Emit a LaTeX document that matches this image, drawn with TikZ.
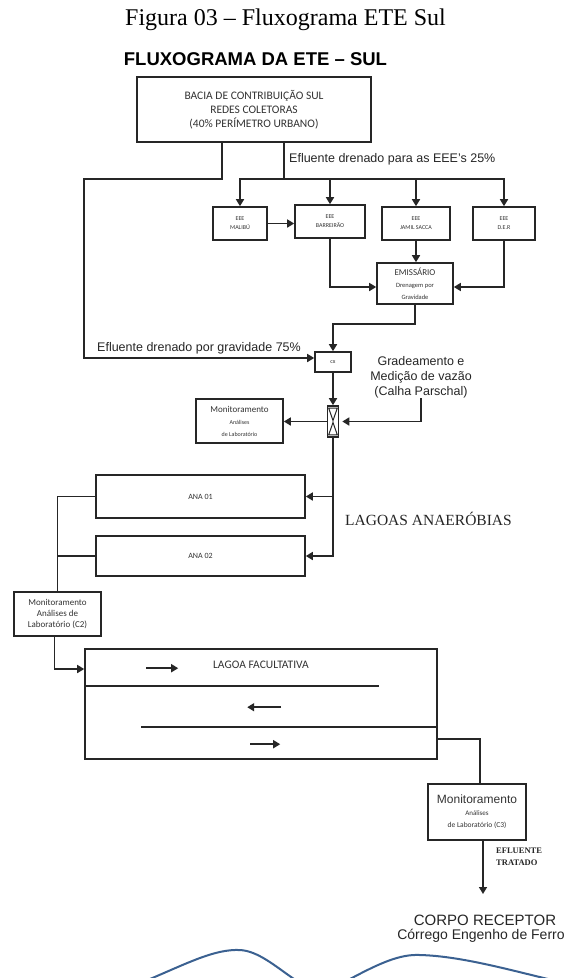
\documentclass[tikz,border=0pt]{standalone}
\usepackage{fontspec}
\setmainfont{Liberation Serif}
\setsansfont{Liberation Sans}
\newfontfamily\calfont{Carlito}
\usetikzlibrary{arrows.meta}
\newcommand\myfs[2]{\fontsize{#1}{#2}\selectfont}
\definecolor{wavec}{RGB}{59,97,145}
\begin{document}
\begin{tikzpicture}[x=1pt,y=-1pt,
  ln/.style={line width=1.6pt, draw=black!85},
  arr/.style={ln, -{Triangle[length=7pt,width=8pt]}},
  box/.style={draw=black!85, line width=1.6pt, inner sep=1pt, align=center, text=black!80},
  lbl/.style={font=\sffamily\myfs{12.5}{15}, text=black!85, inner sep=0pt},
  eee/.style={box, minimum height=33pt, font=\calfont\myfs{6}{9}},
]
\fill[white] (0,0) rectangle (569,978);
\useasboundingbox (0,0) rectangle (569,978);

% titles
\node[font=\myfs{24}{28}, inner sep=0] (fig) at (285.5,20) {Figura 03 – Fluxograma ETE Sul};
\node[font=\sffamily\bfseries\myfs{18.5}{22}, inner sep=0] (head) at (255.5,59) {FLUXOGRAMA DA ETE – SUL};

% top box
\node[box, line width=2pt, minimum width=234pt, minimum height=65pt, font=\calfont\myfs{11.5}{14}] (top) at (254,109.5)
  {BACIA DE CONTRIBUIÇÃO SUL\\REDES COLETORAS\\(40\% PERÍMETRO URBANO)};

% EEE boxes
\node[eee, minimum width=54pt] (malibu) at (240,223.5) {EEE\\MALIBÚ};
\node[eee, minimum width=70pt] (barreirao) at (330,221.5) {EEE\\BARREIRÃO};
\node[eee, minimum width=68pt] (jamil) at (416,223.5) {EEE\\JAMIL SACCA};
\node[eee, minimum width=62pt] (der) at (504,223.5) {EEE\\D.E.R};
\node[box, minimum width=76pt, minimum height=41pt] (emissario) at (415,283.5)
  {{\calfont\myfs{9}{11}EMISSÁRIO}\\{\calfont\myfs{6.5}{8}Drenagem por}\\{\calfont\myfs{6.5}{8}Gravidade}};

\node[box, minimum width=36pt, minimum height=20pt, font=\calfont\myfs{6}{7}] (cx) at (333,362) {cx};
\node[box, minimum width=11pt, minimum height=31pt, inner sep=0pt] (reg) at (333,421.5) {};
\draw[line width=1pt, black!85] ([shift={(2pt,-3pt)}]reg.north west) -- ([shift={(-2pt,-3pt)}]reg.north east) -- ([yshift=1pt]reg.center) -- cycle;
\draw[line width=1pt, black!85] ([shift={(2pt,3pt)}]reg.south west) -- ([shift={(-2pt,3pt)}]reg.south east) -- ([yshift=-1pt]reg.center) -- cycle;

\node[box, minimum width=87pt, minimum height=44pt] (mon1) at (239.5,421)
  {{\calfont\myfs{9}{11}Monitoramento}\\{\calfont\myfs{6}{9}Análises}\\{\calfont\myfs{6}{8}de Laboratório}};

\node[box, minimum width=209pt, minimum height=43pt, font=\calfont\myfs{8}{10}] (ana1) at (200.5,496.5) {ANA 01};
\node[box, minimum width=209pt, minimum height=40pt, font=\calfont\myfs{8}{10}] (ana2) at (200.5,556) {ANA 02};

\node[box, minimum width=87pt, minimum height=44pt, font=\calfont\myfs{9}{11}] (c2) at (57.5,614)
  {Monitoramento\\Análises de\\Laboratório (C2)};

\node[box, minimum width=352pt, minimum height=110pt] (lf) at (261,704) {};
\node[font=\calfont\myfs{11.5}{14}, text=black!80, inner sep=0] (lftxt) at (261,665) {LAGOA FACULTATIVA};

\node[box, minimum width=98pt, minimum height=56pt] (c3) at (477,812)
  {{\sffamily\myfs{12}{14}Monitoramento}\\{\calfont\myfs{7}{9}Análises}\\{\calfont\myfs{7.5}{9}de Laboratório (C3)}};

% labels
\node[lbl, anchor=west] (l25) at (289,159) {Efluente drenado para as EEE’s 25\%};
\node[lbl, anchor=west] (l75) at (97,348) {Efluente drenado por gravidade 75\%};
\node[lbl, align=center] (grad) at (421,377) {Gradeamento e\\Medição de vazão\\(Calha Parschal)};
\node[font=\myfs{15.5}{18}, inner sep=0, text=black!85] (lagoas) at (428.5,519) {LAGOAS ANAERÓBIAS};
\node[font=\bfseries\myfs{8.5}{12}, anchor=west, align=left, inner sep=0, text=black!85] (eft) at (496,857) {EFLUENTE\\TRATADO};
\node[font=\sffamily\myfs{15}{18}, inner sep=0, text=black!85] (corpo) at (485,920) {CORPO RECEPTOR};
\node[font=\sffamily\myfs{14}{16}, inner sep=0, text=black!85] (corrego) at (481,936) {Córrego Engenho de Ferro};

% coordinates
\coordinate (bendA) at (84,179);
\coordinate (bus) at (284,179);
\coordinate (cxin) at (333,324);
\coordinate (outend) at (477,894);

% connectors
\draw[arr] ([xshift=-32pt]top.south) |- (bendA) |- ([yshift=4pt]cx.west);
\draw[ln] ([xshift=30pt]top.south) -- (bus);
\draw[arr] (bus) -| (malibu.north);
\draw[arr] (bus) -| (der.north);
\draw[arr] (barreirao.north |- bus) -- (barreirao.north);
\draw[arr] (jamil.north |- bus) -- (jamil.north);
\draw[arr] (malibu.east) -- (barreirao.west |- malibu.east);
\draw[arr] (barreirao.south) |- ([yshift=-3.5pt]emissario.west);
\draw[arr] (der.south) |- ([yshift=-3.5pt]emissario.east);
\draw[arr] (jamil.south) -- (jamil.south |- emissario.north);
\draw[arr] (emissario.south) |- (cxin) -- (cx.north);
\draw[arr] (cx.south) -- (reg.north);
\draw[arr, shorten >=3pt] (grad.south) |- (reg.east);
\draw[arr] (reg.west) -- (mon1.east |- reg.west);
\draw[arr] (reg.south) |- (ana2.east);
\draw[arr] (reg.south |- ana1.east) -- (ana1.east);
\draw[ln] (ana1.west) -| (c2.north);
\draw[ln] (ana2.west) -- (c2.north |- ana2.west);
\draw[arr] ([xshift=-3pt]c2.south) |- ([yshift=35pt]lf.west);

% lagoa facultativa internals
\draw[ln] ([yshift=-38pt]lf.north west) -- ++(295,0);
\draw[ln] ([yshift=33pt]lf.south east) -- ++(-297,0);
\draw[arr] ([shift={(62pt,-20pt)}]lf.north west) -- ++(32,0);
\draw[arr] ([shift={(197pt,-59pt)}]lf.north west) -- ++(-34,0);
\draw[arr] ([shift={(166pt,-96pt)}]lf.north west) -- ++(30,0);

\draw[ln] ([yshift=21pt]lf.south east) -| ([xshift=3pt]c3.north);
\draw[arr] ([xshift=6pt]c3.south) -- ([xshift=6pt]outend);

% river
\draw[wavec, line width=2pt] (150,979) .. controls (190,962) and (215,949) .. (240,950) .. controls (258,951) and (275,966) .. (294,979);
\draw[wavec, line width=2pt] (350,979) .. controls (380,963) and (400,954) .. (420,955) .. controls (460,956) and (510,970) .. (548,979);
\end{tikzpicture}
\end{document}
